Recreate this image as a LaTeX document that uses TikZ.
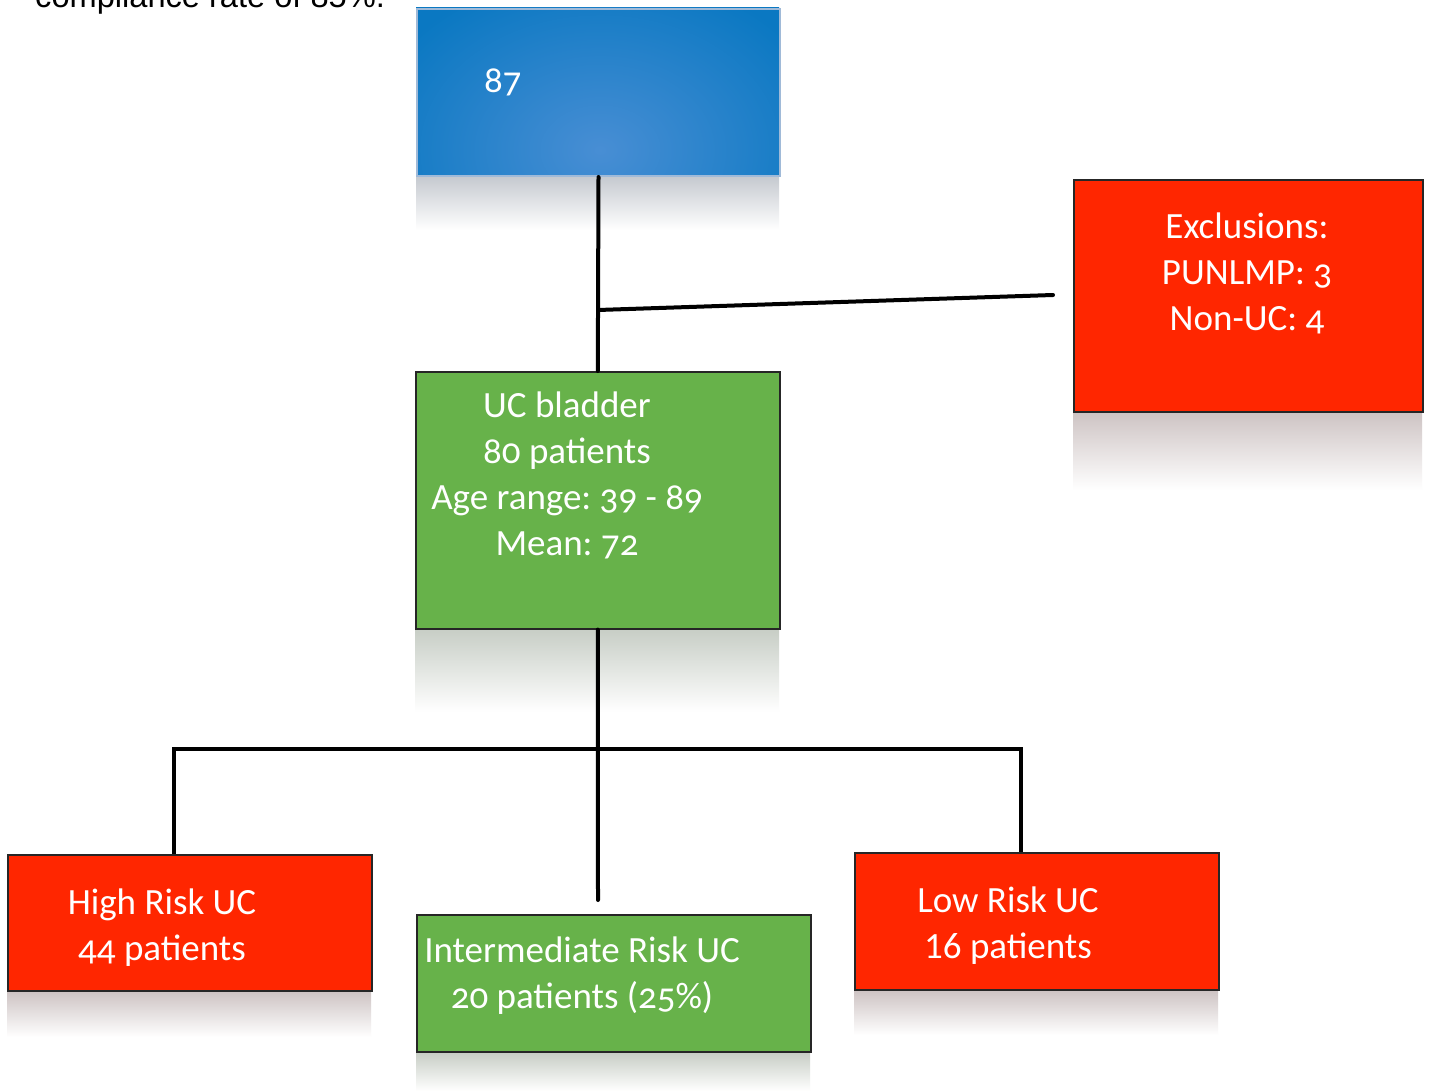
\documentclass[tikz,border=0pt]{standalone}
\usepackage{fontspec}
\setmainfont{Carlito}[Numbers=OldStyle]
\newfontfamily\topfont{Liberation Sans}
\frenchspacing
\definecolor{boxred}{RGB}{255,38,0}
\definecolor{boxgreen}{RGB}{103,178,74}
\definecolor{blueout}{RGB}{10,120,194}
\definecolor{bluein}{RGB}{72,142,212}
\definecolor{blueedge}{RGB}{160,186,216}
\definecolor{reflred}{RGB}{206,196,196}
\definecolor{reflgreen}{RGB}{200,206,198}
\definecolor{reflblue}{RGB}{198,202,208}
\tikzset{
  box/.style={anchor=north west, inner sep=0pt, line width=1.6pt},
  redbox/.style={box, draw=black!85, fill=boxred},
  greenbox/.style={box, draw=black!85, fill=boxgreen},
  bluebox/.style={box, draw=blueedge, line width=2pt},
  lbl/.style={anchor=base, align=center, text=white, inner sep=0pt,
     font=\fontsize{37}{46}\selectfont},
  conn/.style={line width=4pt, draw=black, line cap=round},
}
\begin{document}
\begin{tikzpicture}[x=1pt,y=-1pt]
\useasboundingbox (0,0) rectangle (1429,1091);
\fill[white] (0,0) rectangle (1429,1091);
% caption text, cut off at the top edge as in the source
\begin{scope}
\clip (0,0) rectangle (1429,1091);
\node[anchor=base west, inner sep=0pt, font=\topfont\fontsize{32.6}{38}\selectfont] (cap) at (35,8) {compliance rate of 85\%.};
\end{scope}
% reflections
\shade[top color=reflblue, bottom color=white] (416,177) rectangle (779,230);
\shade[top color=reflred, bottom color=white] (1073,413) rectangle (1422,490);
\shade[top color=reflgreen, bottom color=white] (415,630) rectangle (779,712);
\shade[top color=reflred, bottom color=white] (7,992) rectangle (371,1037);
\shade[top color=reflgreen, bottom color=white] (416,1053) rectangle (810,1091);
\shade[top color=reflred, bottom color=white] (854,991) rectangle (1218,1035);
% blue box gradient, lighter towards the lower middle
\begin{scope}
\clip (416,8) rectangle (779,175);
\shade[inner color=bluein, outer color=blueout] (360,-30) rectangle (840,330);
\end{scope}
% boxes
\node[bluebox, minimum width=363pt, minimum height=167pt] (top) at (416,8) {};
\node[redbox, minimum width=349pt, minimum height=232pt] (excl) at (1073,179) {};
\node[greenbox, minimum width=364pt, minimum height=257pt] (uc) at (415,371) {};
\node[redbox, minimum width=364pt, minimum height=136pt] (high) at (7,854) {};
\node[greenbox, minimum width=394pt, minimum height=137pt] (inter) at (416,914) {};
\node[redbox, minimum width=364pt, minimum height=137pt] (low) at (854,852) {};
% labels (anchor = baseline of last line)
\node[lbl, anchor=base west] (t87) at (484,93) {87};
\node[lbl] (tuc) at (567,555) {UC bladder\\80 patients\\Age range: 39 - 89\\Mean: 72};
\node[lbl] (texcl) at (1247,330) {Exclusions:\\PUNLMP: 3\\Non-UC: 4};
\node[lbl] (thigh) at (162,960) {High Risk UC\\44 patients};
\node[lbl] (tinter) at (582,1008) {Intermediate Risk UC\\20 patients (25\%)};
\node[lbl] (tlow) at (1008,958) {Low Risk UC\\{\addfontfeatures{Numbers=Lining}16} patients};
% connectors
\coordinate (exj) at (598,310);
\coordinate (exend) at (1053,295);
\coordinate (midend) at (598,900);
\coordinate (hb) at (174,749);
\coordinate (lb) at (1021,749);
\draw[conn] (top.south) -- (uc.north);
\draw[conn] (exj) -- (exend);
\draw[conn] (uc.south) -- (midend);
\draw[conn, line cap=butt] (high.north -| hb) -- (hb) -- (lb) -- (low.north -| lb);
\end{tikzpicture}
\end{document}
